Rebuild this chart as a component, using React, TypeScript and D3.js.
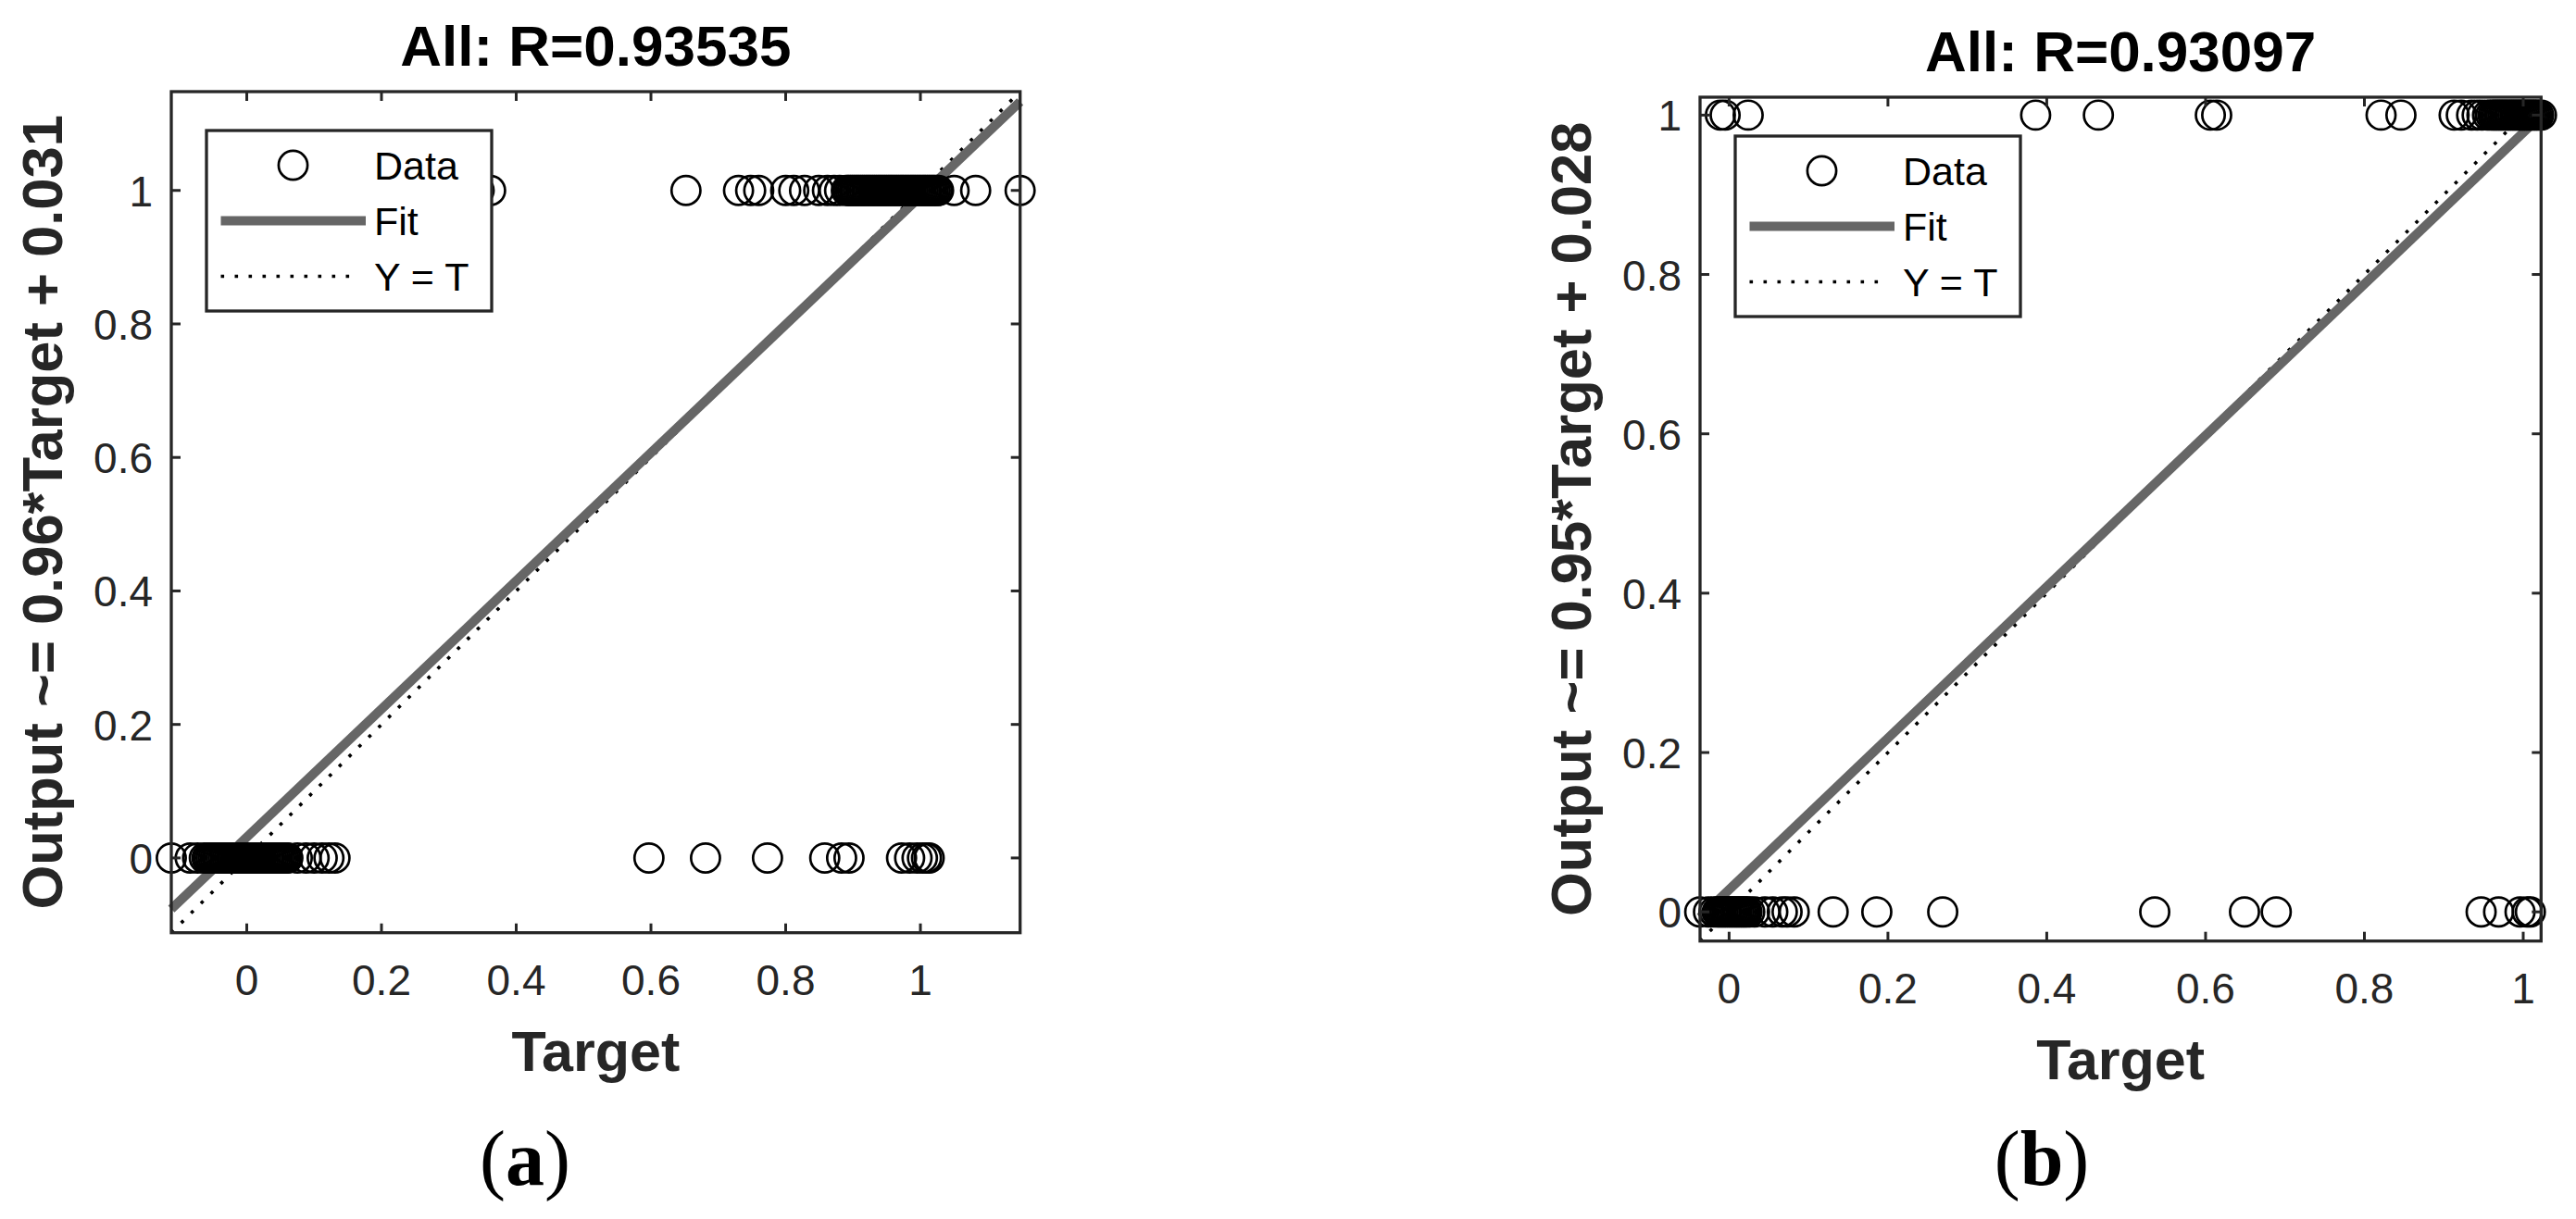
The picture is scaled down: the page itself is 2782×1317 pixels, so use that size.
import React from 'react';
import * as d3 from 'd3';

// ---------- shared labels ----------
const tickValues = [0, 0.2, 0.4, 0.6, 0.8, 1];
const tickLabels = ['0', '0.2', '0.4', '0.6', '0.8', '1'];
const xAxisLabel = 'Target';
const legendLabels = ['Data', 'Fit', 'Y = T'];
const panelLetters = ['a', 'b'];

// ---------- panel (a) ----------
const titleA = 'All: R=0.93535';
const yLabelA = 'Output ~= 0.96*Target + 0.031';
const fitA = [0.96, 0.031]; // slope, intercept
const rangeA = [-0.112, 1.148];
// targets whose output is 0
const zeroTargetsA = [
  -0.112, -0.084, -0.073, -0.063, -0.059, -0.056, -0.053, -0.05, -0.047, -0.044,
  -0.041, -0.038, -0.035, -0.032, -0.029, -0.026, -0.023, -0.02, -0.017, -0.014,
  -0.011, -0.008, -0.005, -0.002, 0.001, 0.004, 0.007, 0.01, 0.013, 0.016,
  0.019, 0.022, 0.025, 0.028, 0.031, 0.034, 0.037, 0.04, 0.043, 0.046,
  0.049, 0.052, 0.055, 0.058, 0.061, 0.075, 0.088, 0.1, 0.112, 0.122, 0.131,
  0.597, 0.681, 0.773, 0.858, 0.883, 0.894, 0.972, 0.984, 0.995, 1.003, 1.009, 1.013,
];
// targets whose output is 1
const oneTargetsA = [
  0.345, 0.362, 0.652, 0.73, 0.748, 0.76, 0.8, 0.812, 0.828, 0.849, 0.862, 0.872, 0.88,
  0.89, 0.893, 0.896, 0.899, 0.902, 0.905, 0.908, 0.911, 0.914, 0.917, 0.92, 0.923,
  0.926, 0.929, 0.932, 0.935, 0.938, 0.941, 0.944, 0.947, 0.95, 0.953, 0.956, 0.959,
  0.962, 0.965, 0.968, 0.971, 0.974, 0.977, 0.98, 0.983, 0.986, 0.989, 0.992, 0.995,
  0.998, 1.001, 1.004, 1.007, 1.01, 1.013, 1.016, 1.019, 1.022, 1.025, 1.027,
  1.05, 1.082, 1.148,
];

// ---------- panel (b) ----------
const titleB = 'All: R=0.93097';
const yLabelB = 'Output ~= 0.95*Target + 0.028';
const fitB = [0.95, 0.028];
const rangeB = [-0.0366, 1.0225];
const zeroTargetsB = [
  -0.037, -0.026, -0.019, -0.015, -0.0125, -0.01, -0.0075, -0.005, -0.0025, 0,
  0.0025, 0.005, 0.0075, 0.01, 0.0125, 0.015, 0.0175, 0.02, 0.0225, 0.026,
  0.032, 0.045, 0.055, 0.067, 0.073, 0.082, 0.131, 0.186, 0.269,
  0.536, 0.649, 0.689, 0.947, 0.969, 0.996, 1.005, 1.009,
];
const oneTargetsB = [
  -0.011, -0.005, 0.024, 0.386, 0.465, 0.606, 0.614, 0.821, 0.846,
  0.913, 0.922, 0.935, 0.942, 0.948, 0.955, 0.959, 0.962, 0.9645, 0.967, 0.9695,
  0.972, 0.9745, 0.977, 0.9795, 0.982, 0.9845, 0.987, 0.9895, 0.992, 0.9945,
  0.997, 0.9995, 1.002, 1.0045, 1.007, 1.0095, 1.012, 1.0145, 1.017, 1.0195, 1.023,
];

// ---------- styling ----------
const AXIS = '#262626';
const FIT_COLOR = '#666666';
const SANS = '"Liberation Sans", Arial, Helvetica, sans-serif';
const SERIF = '"Liberation Serif", "Times New Roman", serif';

type PanelProps = {
  left: number;
  top: number;
  width: number;
  height: number;
  domain: number[];
  title: string;
  yLabel: string;
  fit: number[];
  zeros: number[];
  ones: number[];
  letter: string;
  letterX: number;
};

function Panel(p: PanelProps) {
  const { left, top, width, height, domain } = p;
  const right = left + width;
  const bottom = top + height;
  const x = d3.scaleLinear().domain(domain).range([left, right]);
  const y = d3.scaleLinear().domain(domain).range([bottom, top]);
  const line = d3
    .line<number[]>()
    .x((d) => x(d[0]))
    .y((d) => y(d[1]));
  const idPath = line([
    [domain[0], domain[0]],
    [domain[1], domain[1]],
  ]) as string;
  const fitPath = line([
    [domain[0], p.fit[0] * domain[0] + p.fit[1]],
    [domain[1], p.fit[0] * domain[1] + p.fit[1]],
  ]) as string;

  const points: number[][] = [
    ...p.zeros.map((t) => [t, 0]),
    ...p.ones.map((t) => [t, 1]),
  ];

  const tickLen = 10;
  const lgX = left + 38;
  const lgY = top + 42;
  const rows = [37.5, 97.5, 157.5];
  const cx = (left + right) / 2;
  const cy = (top + bottom) / 2;

  return (
    <g>
      {/* Y = T */}
      <path d={idPath} fill="none" stroke="#000" strokeWidth={3.6} strokeDasharray="3.6 11.4" />
      {/* Fit */}
      <path d={fitPath} fill="none" stroke={FIT_COLOR} strokeWidth={10} />
      {/* Data */}
      <g fill="none" stroke="#000" strokeWidth={2.7}>
        {points.map((d, i) => (
          <circle key={i} cx={x(d[0])} cy={y(d[1])} r={15.6} />
        ))}
      </g>
      {/* axes box and ticks */}
      <g stroke={AXIS} strokeWidth={3}>
        {tickValues.map((v, i) => (
          <g key={'t' + i}>
            <line x1={x(v)} x2={x(v)} y1={bottom} y2={bottom - tickLen} />
            <line x1={x(v)} x2={x(v)} y1={top} y2={top + tickLen} />
            <line x1={left} x2={left + tickLen} y1={y(v)} y2={y(v)} />
            <line x1={right} x2={right - tickLen} y1={y(v)} y2={y(v)} />
          </g>
        ))}
        <rect x={left} y={top} width={width} height={height} fill="none" strokeWidth={3.3} />
      </g>
      {/* tick labels */}
      <g fontFamily={SANS} fontSize={46} fill={AXIS}>
        {tickValues.map((v, i) => (
          <text key={'x' + i} x={x(v)} y={bottom + 67} textAnchor="middle">
            {tickLabels[i]}
          </text>
        ))}
        {tickValues.map((v, i) => (
          <text key={'y' + i} x={left - 20} y={y(v) + 17} textAnchor="end">
            {tickLabels[i]}
          </text>
        ))}
      </g>
      {/* title and axis labels */}
      <text x={cx} y={top - 28.5} textAnchor="middle" fontFamily={SANS} fontWeight="bold" fontSize={62} fill="#000">
        {p.title}
      </text>
      <text x={cx} y={bottom + 149} textAnchor="middle" fontFamily={SANS} fontWeight="bold" fontSize={61} fill={AXIS}>
        {xAxisLabel}
      </text>
      <text
        transform={`translate(${left - 118},${cy}) rotate(-90)`}
        textAnchor="middle"
        fontFamily={SANS}
        fontWeight="bold"
        fontSize={61.5}
        fill={AXIS}
      >
        {p.yLabel}
      </text>
      {/* legend */}
      <g>
        <rect x={lgX} y={lgY} width={308} height={195} fill="#fff" stroke={AXIS} strokeWidth={3.3} />
        <circle cx={lgX + 93.5} cy={lgY + rows[0]} r={15.6} fill="none" stroke="#000" strokeWidth={2.7} />
        <line x1={lgX + 15.5} x2={lgX + 172} y1={lgY + rows[1]} y2={lgY + rows[1]} stroke={FIT_COLOR} strokeWidth={10} />
        <line
          x1={lgX + 15.5}
          x2={lgX + 161}
          y1={lgY + rows[2]}
          y2={lgY + rows[2]}
          stroke="#000"
          strokeWidth={3.6}
          strokeDasharray="3.6 11.4"
        />
        {legendLabels.map((s, i) => (
          <text key={s} x={lgX + 181} y={lgY + rows[i] + 15.5} fontFamily={SANS} fontSize={43} fill="#000">
            {s}
          </text>
        ))}
      </g>
      {/* sub-figure label */}
      <text x={p.letterX} y={1280} textAnchor="middle" fontFamily={SERIF} fontSize={84} fill="#000">
        <tspan>(</tspan>
        <tspan fontWeight="bold">{p.letter}</tspan>
        <tspan>)</tspan>
      </text>
    </g>
  );
}

export default function App() {
  return (
    <svg
      width={2782}
      height={1317}
      viewBox="0 0 2782 1317"
      style={{ position: 'absolute', left: 0, top: 0, background: '#fff' }}
    >
      <rect x={0} y={0} width={2782} height={1317} fill="#fff" />
      <Panel
        left={185}
        top={99}
        width={916.7}
        height={908.7}
        domain={rangeA}
        title={titleA}
        yLabel={yLabelA}
        fit={fitA}
        zeros={zeroTargetsA}
        ones={oneTargetsA}
        letter={panelLetters[0]}
        letterX={567}
      />
      <Panel
        left={1836}
        top={105}
        width={908.3}
        height={911.7}
        domain={rangeB}
        title={titleB}
        yLabel={yLabelB}
        fit={fitB}
        zeros={zeroTargetsB}
        ones={oneTargetsB}
        letter={panelLetters[1]}
        letterX={2205}
      />
    </svg>
  );
}
